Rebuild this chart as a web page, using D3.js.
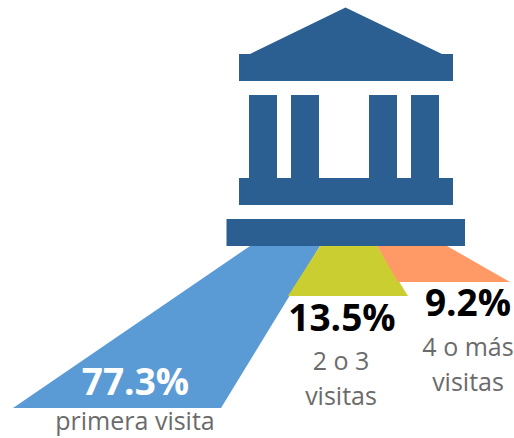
<!DOCTYPE html>
<html>
<head>
<meta charset="utf-8">
<script src="https://cdnjs.cloudflare.com/ajax/libs/d3/7.8.5/d3.min.js"></script>
<style>
  html, body { margin: 0; padding: 0; background: #fff; }
  svg { display: block; }
  text { font-family: "Open Sans", sans-serif; }
</style>
</head>
<body>
<div id="chart"></div>
<script>
// data
const categories = ['primera visita', '2 o 3 visitas', '4 o más visitas'];
const values = [77.3, 13.5, 9.2];
const labelLines = [['primera visita'], ['2 o 3', 'visitas'], ['4 o más', 'visitas']];
const colors = ['#5b9bd5', '#cbce30', '#ff9a66'];

const width = 514;
const height = 438;
const funnelTop = 246;

const svg = d3.select('#chart')
    .append('svg')
    .attr('width', width)
    .attr('height', height);

// the beams are not strictly proportional in the original, so piecewise scales
const depth = d3.scaleLinear().domain([9.2, 13.5, 77.3]).range([36, 50, 162]);
const bottomWidth = d3.scaleLinear().domain([9.2, 13.5, 77.3]).range([112, 120, 208]);
const topLeft = d3.scaleOrdinal().domain(categories).range([250, 320, 377]);
const topRight = d3.scaleOrdinal().domain(categories).range([320, 377, 447]);
const bottomCenter = d3.scaleOrdinal().domain(categories).range([117, 348, 454]);
const valueColor = d3.scaleOrdinal().domain(categories).range(colors);

const line = d3.line();

const beams = categories.map((c, i) => ({ category: c, value: values[i], lines: labelLines[i] }));

svg.selectAll('path.beam')
    .data(beams)
    .enter()
    .append('path')
    .attr('class', 'beam')
    .attr('fill', d => valueColor(d.category))
    .attr('d', d => {
        const y = funnelTop + depth(d.value);
        const half = bottomWidth(d.value) / 2;
        const cx = bottomCenter(d.category);
        return line([
            [topLeft(d.category), funnelTop],
            [topRight(d.category), funnelTop],
            [cx + half, y],
            [cx - half, y]
        ]) + 'Z';
    });

// building icon
const building = svg.append('g').attr('fill', '#2b5f91');

building.append('path')
    .attr('d', line([[345.5, 7.5], [442, 54], [453, 54], [453, 81], [239, 81], [239, 54], [250, 54]]) + 'Z');

[249, 291, 369, 411].forEach(x => {
    building.append('rect').attr('x', x).attr('y', 95).attr('width', 28).attr('height', 84);
});
building.append('rect').attr('x', 239).attr('y', 178).attr('width', 214).attr('height', 27);
building.append('rect').attr('x', 226.5).attr('y', 219).attr('width', 238.5).attr('height', 27);

// text
const pctX = [135.5, 342, 468];
const pctY = [395, 331, 316];
const pctFill = ['#ffffff', '#000000', '#000000'];
const labelX = [135, 341, 468];
const labelY = [[430], [370, 405], [356, 391]];

svg.selectAll('text.pct')
    .data(beams)
    .enter()
    .append('text')
    .attr('class', 'pct')
    .attr('x', (d, i) => pctX[i])
    .attr('y', (d, i) => pctY[i])
    .attr('text-anchor', 'middle')
    .attr('font-weight', 700)
    .attr('font-size', 37)
    .attr('fill', (d, i) => pctFill[i])
    .text(d => d3.format('.1f')(d.value) + '%');

beams.forEach((d, i) => {
    d.lines.forEach((t, j) => {
        svg.append('text')
            .attr('x', labelX[i])
            .attr('y', labelY[i][j])
            .attr('text-anchor', 'middle')
            .attr('font-size', 25)
            .attr('fill', '#6b6b6b')
            .text(t);
    });
});
</script>
</body>
</html>
